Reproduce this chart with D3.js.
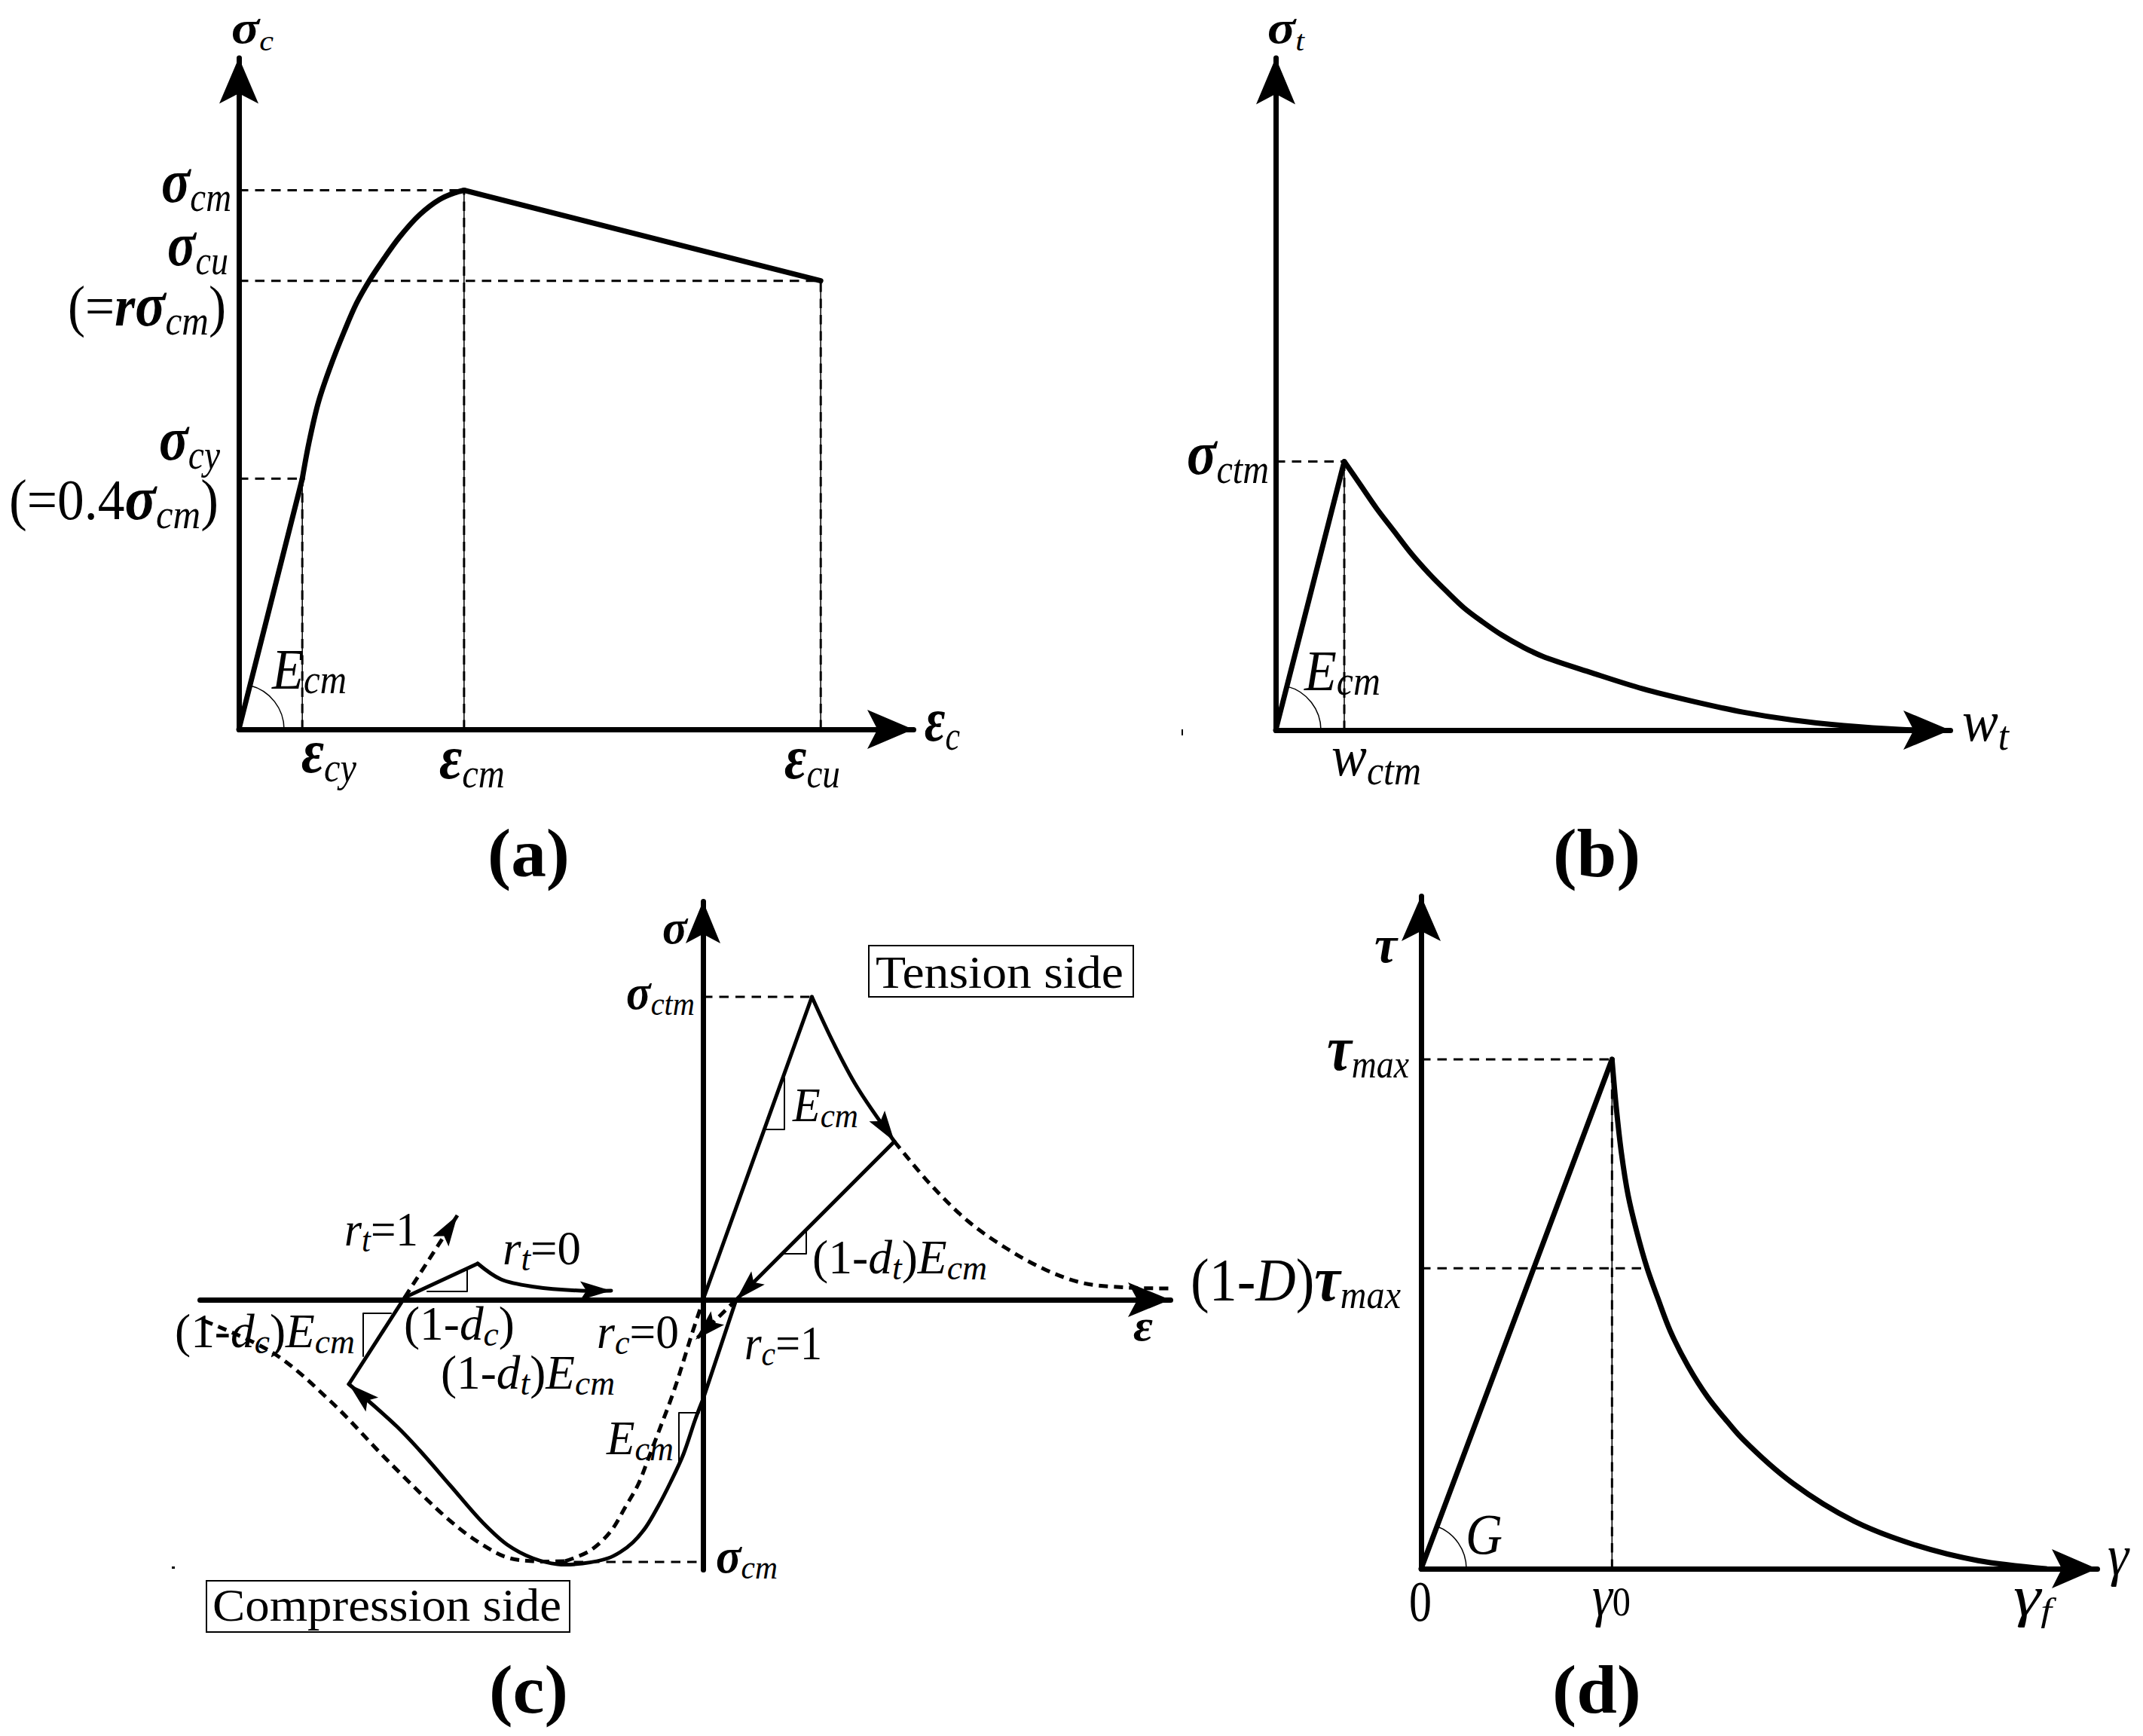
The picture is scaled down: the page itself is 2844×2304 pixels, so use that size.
<!DOCTYPE html>
<html><head><meta charset="utf-8">
<script src="https://cdn.jsdelivr.net/npm/d3@7"></script>
<style>html,body{margin:0;background:#fff}svg{display:block;font-family:"Liberation Serif",serif}</style>
</head><body><div id="chart"></div>
<script>
// Panel (a): compression stress vs strain (eps_cu = 1, sigma_cm = 1)
const aStrain = [0, 0.109, 0.1205, 0.137, 0.157, 0.181, 0.202, 0.224, 0.246, 0.276, 0.311, 0.345, 0.370, 0.387];
const aStress = [0, 0.465, 0.532, 0.608, 0.672, 0.738, 0.790, 0.832, 0.868, 0.913, 0.955, 0.983, 0.995, 1.0];
const aYieldStrain = 0.109, aYieldStress = 0.465, aPeakStrain = 0.387;
const aTailStrain = [0.387, 1.0];
const aTailStress = [1.0, 0.832];
// Panel (b): tension stress vs crack opening (w_ctm = 1, sigma_ctm = 1)
const bOpening = [1, 1.209, 1.473, 1.725, 1.978, 2.242, 2.495, 2.747, 3.011, 3.297, 3.593, 3.890, 4.615, 5.352, 6.088, 6.813, 7.549, 8.286, 9.088, 9.6];
const bStress = [1, 0.923, 0.825, 0.741, 0.657, 0.581, 0.516, 0.455, 0.404, 0.354, 0.311, 0.275, 0.213, 0.154, 0.107, 0.067, 0.037, 0.017, 0.003, 0];
// Panel (d): shear stress vs shear strain (gamma_0 = 1, tau_max = 1)
const dStrain = [1, 1.0225, 1.049, 1.0845, 1.128, 1.184, 1.240, 1.306, 1.398, 1.503, 1.615, 1.686, 1.946, 2.270, 2.594, 2.918, 3.273];
const dStress = [1, 0.905, 0.817, 0.733, 0.664, 0.590, 0.531, 0.466, 0.398, 0.336, 0.284, 0.254, 0.168, 0.093, 0.046, 0.016, 0];
const dDamage = 0.590;
// Panel (c): cyclic response
const cRiseX = [0, 1.445], cRiseY = [0, 4.02];
const cSoftX = [1.445, 1.73, 2.04, 2.54], cSoftY = [4.02, 3.41, 2.83, 2.10];
const cUnloadX = [2.54, 0.44, 0], cUnloadY = [2.10, 0, -1.32];
const cCompX = [0, -0.10, -0.26, -0.43, -0.60, -0.76, -0.93, -1.10, -1.26, -1.60, -1.93, -2.26, -2.60, -2.93, -3.35, -3.76, -4.065, -4.70];
const cCompY = [-1.32, -1.58, -2.05, -2.42, -2.75, -3.02, -3.22, -3.35, -3.43, -3.50, -3.51, -3.43, -3.25, -2.95, -2.47, -2.0, -1.68, -1.12];
const cBackX = [-4.70, -3.96, -2.99], cBackY = [-1.12, 0.03, 0.48];
const cReloadX = [-2.99, -2.68, -2.23, -1.62, -1.22], cReloadY = [0.48, 0.27, 0.17, 0.12, 0.12];
const cTailX = [2.54, 3.01, 3.52, 4.03, 4.54, 5.05, 5.66, 6.21], cTailY = [2.10, 1.54, 1.04, 0.68, 0.40, 0.22, 0.16, 0.15];
const cRt1X = [-3.96, -3.26], cRt1Y = [0.03, 1.12];
const cEnvLX = [-6.62, -5.70, -4.93, -4.17, -3.35, -2.93, -2.60, -2.26, -1.83], cEnvLY = [-0.28, -0.71, -1.36, -2.15, -2.94, -3.25, -3.42, -3.47, -3.47];
const cEnvRX = [-1.83, -1.50, -1.23, -1.03, -0.86, -0.73, -0.60, -0.39, -0.14, -0.03], cEnvRY = [-3.47, -3.33, -3.08, -2.75, -2.45, -2.12, -1.78, -1.22, -0.43, -0.10];
const cRc0X = [0.44, -0.10], cRc0Y = [0, -0.53];
const cPeakX = 1.445, cPeakY = 4.02, cMinX = -1.93, cMinY = -3.48;

const svg = d3.select('#chart').append('svg').attr('width', 2844).attr('height', 2304).attr('viewBox', '0 0 2844 2304');
svg.append('rect').attr('width', 2844).attr('height', 2304).attr('fill', '#fff');

const ax = { x: d3.scaleLinear().domain([0, 1.159]).range([317, 1212]), y: d3.scaleLinear().domain([0, 1.246]).range([968, 76.5]) };
const bx = { x: d3.scaleLinear().domain([0, 9.835]).range([1693, 2588]), y: d3.scaleLinear().domain([0, 2.504]).range([969, 76.5]) };
const cx = { x: d3.scaleLinear().domain([-6.68, 6.20]).range([265, 1553]), y: d3.scaleLinear().domain([-3.58, 5.29]).range([2083, 1196]) };
const dx = { x: d3.scaleLinear().domain([0, 3.541]).range([1886, 2783]), y: d3.scaleLinear().domain([0, 1.321]).range([2082, 1189]) };

function line(p, xs, ys, o = {}) {
  const gen = d3.line().x(d => p.x(d[0])).y(d => p.y(d[1])).curve(o.curve ? d3.curveCatmullRom : d3.curveLinear);
  return svg.append('path').attr('d', gen(d3.zip(xs, ys))).attr('fill', 'none').attr('stroke', '#000')
    .attr('stroke-width', o.w || 7).attr('stroke-dasharray', o.dash || null)
    .attr('stroke-linejoin', 'round').attr('stroke-linecap', o.dash ? 'butt' : 'round');
}
function arrowAt(tipX, tipY, ux, uy, len, half, notch) {
  const n = Math.hypot(ux, uy); ux /= n; uy /= n;
  const bx0 = tipX - ux * len, by0 = tipY - uy * len;
  const pts = [[tipX, tipY], [bx0 - uy * half, by0 + ux * half], [tipX - ux * notch, tipY - uy * notch], [bx0 + uy * half, by0 - ux * half]];
  svg.append('polygon').attr('points', pts.map(q => q.join(',')).join(' ')).attr('fill', '#000');
}
// arrow along a data segment ending in its second point
function arrow(p, x0, y0, x1, y1, len = 41, half = 12.5) {
  const tx = p.x(x1), ty = p.y(y1);
  arrowAt(tx, ty, tx - p.x(x0), ty - p.y(y0), len, half, len * 0.8);
}
function axes(p, opts) {
  const gx = svg.append('g').attr('transform', `translate(0,${p.y(0)})`).call(d3.axisBottom(p.x).tickValues([]).tickSizeOuter(0));
  const gy = svg.append('g').attr('transform', `translate(${p.x(0)},0)`).call(d3.axisLeft(p.y).tickValues([]).tickSizeOuter(0));
  [gx, gy].forEach(g => g.select('.domain').attr('stroke', '#000').attr('stroke-width', 7).attr('stroke-linecap', 'round'));
  const r = p.x.range(), q = p.y.range();
  arrowAt(r[1], p.y(0), 1, 0, opts.len, opts.half, opts.len * 0.78);
  arrowAt(p.x(0), q[1], 0, -1, opts.len, opts.half, opts.len * 0.78);
}
function angleArc(p, r, slopeX, slopeY) {
  const a = Math.atan2(p.x(slopeX) - p.x(0), p.y(0) - p.y(slopeY));
  svg.append('path').attr('transform', `translate(${p.x(0)},${p.y(0)})`)
    .attr('d', d3.arc()({ innerRadius: r, outerRadius: r, startAngle: a, endAngle: Math.PI / 2 }))
    .attr('fill', 'none').attr('stroke', '#000').attr('stroke-width', 1.5);
}
// text stretched horizontally between x0 and x1, on baseline `base`
function lab(x0, x1, base, parts) {
  const t = svg.append('text').attr('fill', '#000');
  let shift = 0;
  parts.forEach(([str, st, size, sh = 0]) => {
    t.append('tspan').text(str).attr('font-size', size)
      .attr('font-style', st.includes('i') ? 'italic' : 'normal')
      .attr('font-weight', st.includes('b') ? 'bold' : 'normal')
      .attr('dy', sh - shift);
    shift = sh;
  });
  const w = t.node().getComputedTextLength();
  t.attr('transform', `translate(${x0},${base}) scale(${(x1 - x0) / w},1)`);
}
const THIN = { w: 3, dash: '12.5,9' };
const CD = { w: 5, dash: '12,8', curve: true };
// reference line drawn as a fine rule under a dash pattern
function drop(p, xv, yv) {
  line(p, [xv, xv], [0, yv], { w: 1.5 });
  line(p, [xv, xv], [0, yv], { w: 3, dash: '12.5,9' });
}

// ---------- (a)
axes(ax, { len: 61, half: 26 });
line(ax, aStrain.slice(0, 2), aStress.slice(0, 2));
line(ax, aStrain.slice(1), aStress.slice(1), { curve: true });
line(ax, aTailStrain, aTailStress);
line(ax, [0, aPeakStrain], [1, 1], THIN);
line(ax, [0, 1], [aTailStress[1], aTailStress[1]], THIN);
line(ax, [0, aYieldStrain], [aYieldStress, aYieldStress], THIN);
drop(ax, aYieldStrain, aYieldStress);
drop(ax, aPeakStrain, 1);
drop(ax, 1, aTailStress[1]);
angleArc(ax, 60, aYieldStrain, aYieldStress);
const M = 76, G = 82, S = 54, D = 12;
lab(307, 363, 57, [['σ', 'bi', 62], ['c', 'i', 38, 10]]);
lab(214, 307, 268, [['σ', 'bi', G], ['cm', 'i', S, D]]);
lab(222, 303, 352, [['σ', 'bi', G], ['cu', 'i', S, D]]);
lab(90, 300, 432, [['(=', 'r', M], ['r', 'bi', M], ['σ', 'bi', G], ['cm', 'i', S, D], [')', 'r', M]]);
lab(211, 292, 610, [['σ', 'bi', G], ['cy', 'i', S, D]]);
lab(12, 290, 689, [['(=0.4', 'r', M], ['σ', 'bi', G], ['cm', 'i', S, D], [')', 'r', M]]);
lab(361, 460, 914, [['E', 'i', M], ['cm', 'i', S, 6]]);
lab(1227, 1274, 983, [['ε', 'bi', G], ['c', 'i', S, D]]);
lab(400, 473, 1025, [['ε', 'bi', G], ['cy', 'i', S, D]]);
lab(583, 670, 1033, [['ε', 'bi', G], ['cm', 'i', S, D]]);
lab(1041, 1115, 1033, [['ε', 'bi', G], ['cu', 'i', S, D]]);
lab(647, 756, 1163, [['(', 'b', 90], ['a', 'b', 90], [')', 'b', 90]]);

// ---------- (b)
axes(bx, { len: 62, half: 26 });
line(bx, [0, 1], [0, 1]);
line(bx, bOpening, bStress, { curve: true });
line(bx, [0, 1], [1, 1], THIN);
drop(bx, 1, 1);
angleArc(bx, 60, 1, 1);
lab(1682, 1731, 57, [['σ', 'bi', 62], ['t', 'i', 38, 10]]);
lab(1575, 1684, 629, [['σ', 'bi', G], ['ctm', 'i', S, D]]);
lab(1731, 1832, 916, [['E', 'i', M], ['cm', 'i', S, 6]]);
lab(2604, 2666, 983, [['w', 'i', M], ['t', 'i', S, D]]);
lab(1767, 1886, 1029, [['w', 'i', M], ['ctm', 'i', S, D]]);
lab(2061, 2177, 1163, [['(', 'b', 90], ['b', 'b', 90], [')', 'b', 90]]);
svg.append('rect').attr('x', 1568).attr('y', 968).attr('width', 2).attr('height', 8).attr('fill', '#000');

// ---------- (c)
axes(cx, { len: 56, half: 23 });
line(cx, cRiseX, cRiseY, { w: 5 });
line(cx, cSoftX, cSoftY, { w: 5, curve: true });
line(cx, cUnloadX, cUnloadY, { w: 5 });
line(cx, cCompX, cCompY, { w: 5, curve: true });
line(cx, cBackX, cBackY, { w: 5 });
line(cx, cReloadX, cReloadY, { w: 5, curve: true });
line(cx, cTailX, cTailY, CD);
line(cx, cRt1X, cRt1Y, { w: 5, dash: '12,8' });
line(cx, cEnvLX, cEnvLY, CD);
line(cx, cEnvRX, cEnvRY, CD);
line(cx, cRc0X, cRc0Y, { w: 5, dash: '12,8' });
line(cx, [0, cPeakX], [cPeakY, cPeakY], THIN);
line(cx, [cMinX, 0], [cMinY, cMinY], THIN);
arrow(cx, cSoftX[2], cSoftY[2], cSoftX[3], cSoftY[3]);
arrow(cx, cUnloadX[0], cUnloadY[0], cUnloadX[1], cUnloadY[1]);
arrow(cx, cRc0X[0], cRc0Y[0], cRc0X[1], cRc0Y[1]);
arrow(cx, cCompX[16], cCompY[16], cCompX[17], cCompY[17]);
arrow(cx, cRt1X[0], cRt1Y[0], cRt1X[1], cRt1Y[1]);
arrow(cx, cReloadX[3], cReloadY[3], cReloadX[4], cReloadY[4]);
[[[1.08, 1.08, 0.82], [2.94, 2.26, 2.26]],
 [[1.37, 1.37, 1.07], [0.93, 0.61, 0.61]],
 [[-0.05, -0.32, -0.32], [-1.50, -1.50, -2.15]],
 [[-4.14, -4.51, -4.51], [-0.18, -0.18, -0.75]],
 [[-3.13, -3.13, -3.66], [0.40, 0.11, 0.11]]].forEach(([xs, ys]) => line(cx, xs, ys, { w: 2 }));
[[1153, 1255, 351, 68], [274, 2098, 482, 68]].forEach(([x, y, w, h]) =>
  svg.append('rect').attr('x', x).attr('y', y).attr('width', w).attr('height', h).attr('fill', 'none').attr('stroke', '#000').attr('stroke-width', 2));
svg.append('rect').attr('x', 228).attr('y', 2079).attr('width', 4).attr('height', 3).attr('fill', '#000');
const m = 64, s = 46, d = 8;
lab(1162, 1491, 1311, [['Tension side', 'r', 62]]);
lab(282, 745, 2151, [['Compression side', 'r', 62]]);
lab(879, 912, 1252, [['σ', 'bi', 64]]);
lab(831, 922, 1339, [['σ', 'bi', 66], ['ctm', 'i', 44, d]]);
lab(950, 1032, 2087, [['σ', 'bi', 66], ['cm', 'i', 44, d]]);
lab(1504, 1530, 1779, [['ε', 'bi', 60]]);
lab(457, 555, 1653, [['r', 'i', m], ['t', 'i', s, d], ['=1', 'r', m]]);
lab(667, 771, 1678, [['r', 'i', m], ['t', 'i', s, d], ['=0', 'r', m]]);
lab(792, 901, 1789, [['r', 'i', m], ['c', 'i', s, d], ['=0', 'r', m]]);
lab(988, 1091, 1804, [['r', 'i', m], ['c', 'i', s, d], ['=1', 'r', m]]);
lab(536, 683, 1778, [['(1-', 'r', m], ['d', 'i', m], ['c', 'i', s, d], [')', 'r', m]]);
lab(232, 471, 1788, [['(1-', 'r', m], ['d', 'i', m], ['c', 'i', s, d], [')', 'r', m], ['E', 'i', m], ['cm', 'i', s, d]]);
lab(585, 816, 1843, [['(1-', 'r', m], ['d', 'i', m], ['t', 'i', s, d], [')', 'r', m], ['E', 'i', m], ['cm', 'i', s, d]]);
lab(1078, 1310, 1690, [['(1-', 'r', m], ['d', 'i', m], ['t', 'i', s, d], [')', 'r', m], ['E', 'i', m], ['cm', 'i', s, d]]);
lab(1052, 1139, 1488, [['E', 'i', m], ['cm', 'i', s, d]]);
lab(805, 894, 1930, [['E', 'i', m], ['cm', 'i', s, d]]);
lab(649, 754, 2273, [['(', 'b', 90], ['c', 'b', 90], [')', 'b', 90]]);

// ---------- (d)
axes(dx, { len: 60, half: 26 });
line(dx, [0, 1], [0, 1]);
line(dx, dStrain, dStress, { curve: true });
line(dx, [0, 1], [1, 1], THIN);
drop(dx, 1, 1);
line(dx, [0, dStrain[5]], [dDamage, dDamage], THIN);
angleArc(dx, 60, 1, 1);
lab(1761, 1870, 1420, [['τ', 'bi', 84], ['max', 'i', 52, 10]]);
lab(1580, 1859, 1726, [['(1-', 'r', 80], ['D', 'i', 80], [')', 'r', 80], ['τ', 'bi', 84], ['max', 'i', 52, 10]]);
lab(1824, 1854, 1277, [['τ', 'bi', 70]]);
lab(1945, 1994, 2062, [['G', 'i', 76]]);
lab(1870, 1900, 2151, [['0', 'r', 76]]);
lab(2113, 2164, 2144, [['γ', 'i', 76], ['0', 'r', 54]]);
lab(2672, 2723, 2144, [['γ', 'i', 76], ['f', 'i', 44, 8]]);
lab(2797, 2825, 2090, [['γ', 'i', 76]]);
lab(2060, 2178, 2273, [['(', 'b', 90], ['d', 'b', 90], [')', 'b', 90]]);
</script></body></html>
